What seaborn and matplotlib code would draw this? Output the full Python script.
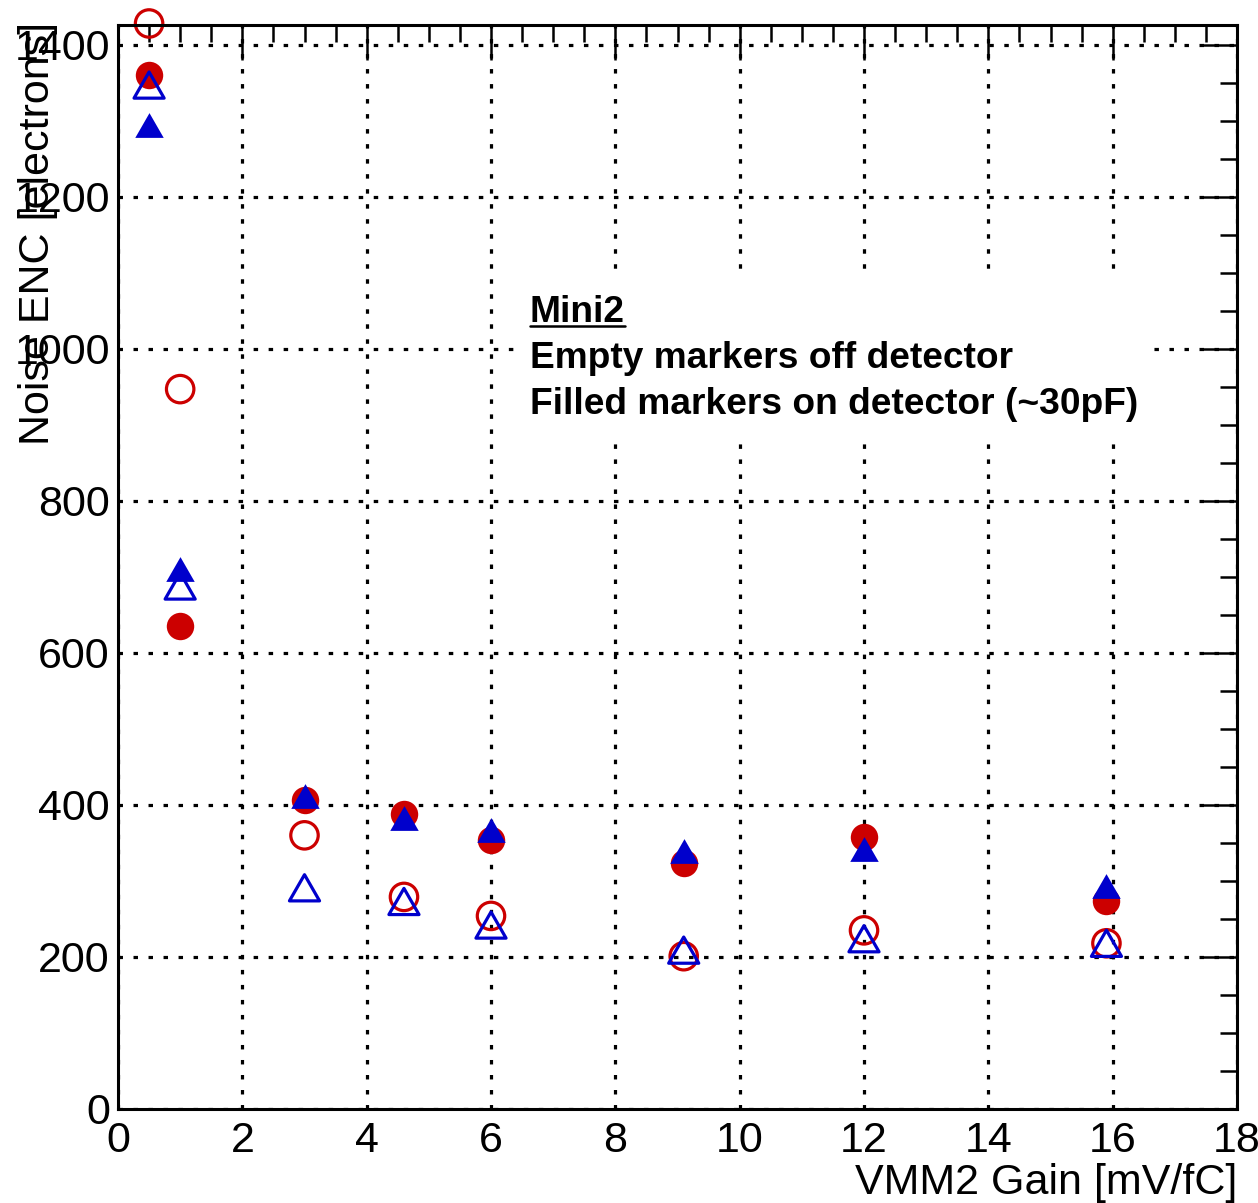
import numpy as np
import pandas as pd
import matplotlib
matplotlib.use('Agg')
import matplotlib.pyplot as plt
import seaborn as sns
from matplotlib.ticker import MultipleLocator
from matplotlib.markers import MarkerStyle
from matplotlib.patches import Rectangle
from matplotlib.path import Path
from matplotlib.lines import Line2D

# ---- data ----
gain = [0.5, 1.0, 3.0, 4.6, 6.0, 9.1, 12.0, 15.9]
red_off = [1428, 947, 360, 279, 254, 201, 235, 218]     # open circles
red_on = [1360, 636, 407, 388, 354, 323, 358, 274]      # filled circles
blue_off = [1347, 688, 291, 273, 242, 209, 224, 218]    # open triangles
blue_on = [1295, 710, 412, 383, 367, 339, 342, 294]     # filled triangles

x_label = "VMM2 Gain [mV/fC]"
y_label = "Noise ENC [electrons]"
note_title = "Mini2"
note_lines = ["Empty markers off detector", "Filled markers on detector (~30pF)"]

RED = '#CC0000'
BLUE = '#0000CC'

sns.set_style('white')
plt.rcParams['font.family'] = ['Liberation Sans', 'DejaVu Sans']
plt.rcParams['text.color'] = 'black'
plt.rcParams['axes.labelcolor'] = 'black'
plt.rcParams['xtick.color'] = 'black'
plt.rcParams['ytick.color'] = 'black'

W, H = 1258, 1203
fig = plt.figure(figsize=(W / 100, H / 100), dpi=100)
ax = fig.add_axes([118 / W, 94 / H, 1119 / W, 1084 / H])

tri = MarkerStyle(Path([(-1, -0.87), (1, -0.87), (0, 0.87), (0, 0)],
                       [Path.MOVETO, Path.LINETO, Path.LINETO, Path.CLOSEPOLY]))

sns.scatterplot(x=gain, y=red_off, ax=ax, marker='o', s=390, facecolor='none',
                edgecolor=RED, linewidth=2.3, clip_on=False, zorder=3)
sns.scatterplot(x=gain, y=red_on, ax=ax, marker='o', s=390, color=RED,
                edgecolor=RED, linewidth=0, clip_on=False, zorder=4)
sns.scatterplot(x=gain, y=blue_off, ax=ax, marker=tri, s=470, facecolor='none',
                edgecolor=BLUE, linewidth=2.3, clip_on=False, zorder=5)
sns.scatterplot(x=gain, y=blue_on, ax=ax, marker=tri, s=420, color=BLUE,
                edgecolor=BLUE, linewidth=0, clip_on=False, zorder=6)

ax.set_xlim(0, 18)
ax.set_ylim(0, 1426)
ax.xaxis.set_major_locator(MultipleLocator(2))
ax.xaxis.set_minor_locator(MultipleLocator(0.5))
ax.yaxis.set_major_locator(MultipleLocator(200))
ax.yaxis.set_minor_locator(MultipleLocator(50))

ax.tick_params(which='both', direction='in', top=True, right=True,
               width=1.8, color='black', labelsize=31, labelcolor='black')
ax.tick_params(which='major', length=25)
ax.tick_params(which='minor', length=12)
ax.tick_params(axis='y', pad=5.8)
ax.tick_params(axis='x', pad=9.0)
for sp in ax.spines.values():
    sp.set_linewidth(2.2)
    sp.set_color('black')
    sp.set_zorder(10)

ax.grid(True, which='major', color='black', linestyle=(0, (1.4, 3.3)), linewidth=2.3)

ax.set_xlabel(x_label, fontsize=31, loc='right', color='black')
ax.xaxis.set_label_coords(1.0, -0.050)
ax.set_ylabel(y_label, fontsize=31, loc='top', color='black')
ax.yaxis.set_label_coords(-0.054, 1.003)

# white note box hiding the grid
ax.add_patch(Rectangle((0.3593, 0.617), 0.5629, 0.1524, transform=ax.transAxes,
                       facecolor='white', edgecolor='none', zorder=2))
tx = 0.368
t0 = ax.text(tx, (1109 - 322) / 1084, note_title, transform=ax.transAxes,
             fontsize=26.7, fontweight='bold', va='baseline', ha='left',
             color='black', zorder=7)
for i, line in enumerate(note_lines):
    ax.text(tx, (1109 - 368 - 46 * i) / 1084, line, transform=ax.transAxes,
            fontsize=26.7, fontweight='bold', va='baseline', ha='left',
            color='black', zorder=7)

fig.canvas.draw()
bb = t0.get_window_extent()
inv = ax.transAxes.inverted()
base_y = ax.transAxes.transform((0, (1109 - 322) / 1084))[1] - 4
(x0, y0) = inv.transform((bb.x0, base_y))
(x1, _) = inv.transform((bb.x1, base_y))
ax.add_line(Line2D([x0, x1], [y0, y0], transform=ax.transAxes, color='black',
                   linewidth=1.8, zorder=7))

fig.savefig('out.png', dpi=100)
